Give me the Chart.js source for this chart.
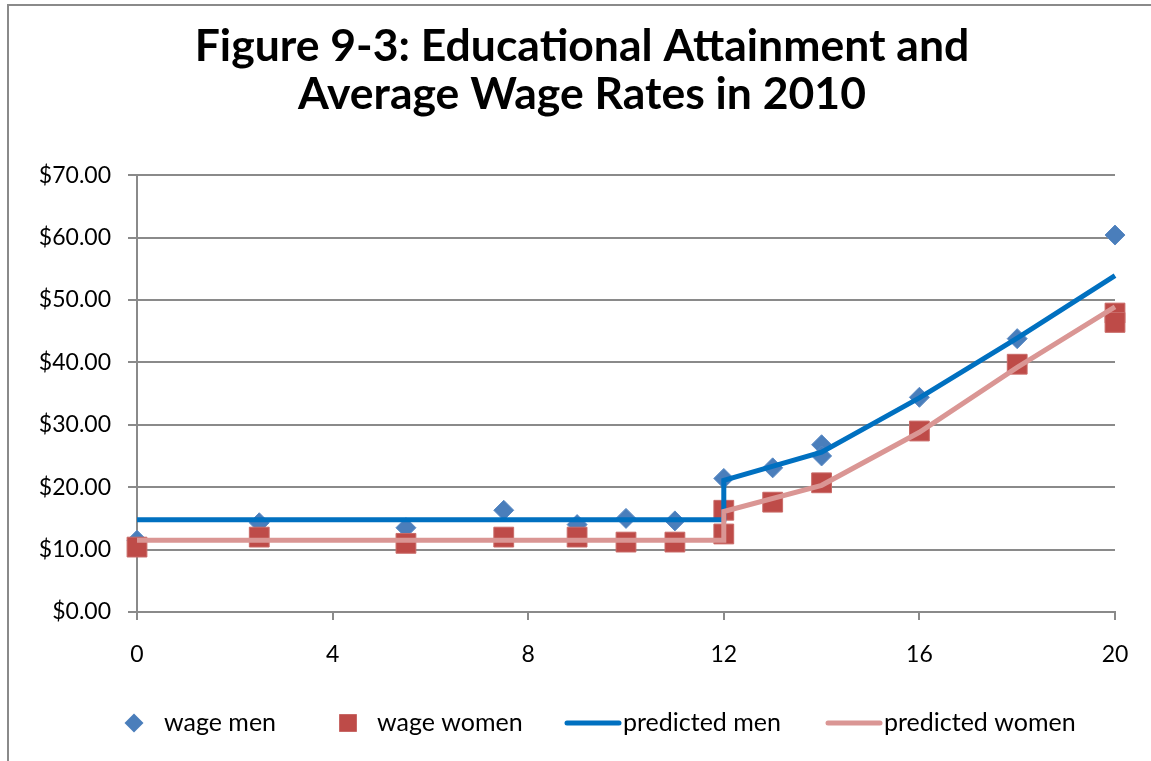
<!DOCTYPE html>
<html>
<head>
<meta charset="utf-8">
<script src="https://cdn.jsdelivr.net/npm/chart.js@4/dist/chart.umd.min.js"></script>
<style>
  html, body { margin: 0; padding: 0; background: #fff; overflow: hidden; }
  #wrap { position: relative; width: 1151px; height: 761px; }
  #frame { position: absolute; left: 7px; top: 4px; width: 1170px; height: 790px; border: 2px solid #8a8a8a; box-sizing: border-box; }
  canvas { position: absolute; left: 0; top: 0; }
</style>
</head>
<body>
<div id="wrap">
  <div id="frame"></div>
  <canvas id="chart" width="1151" height="761"></canvas>
</div>
<script>
// ── data ─────────────────────────────────────────────────────────────────
const menYears   = [0, 2.5, 5.5, 7.5, 9, 10, 11, 12, 13, 14, 14, 16, 18, 20];
const menWage    = [11.5, 14.3, 13.5, 16.3, 14.0, 15.0, 14.6, 21.4, 23.1, 26.8, 25.0, 34.4, 43.8, 60.4];

const womenYears = [0, 2.5, 5.5, 7.5, 9, 10, 11, 12, 12, 13, 14, 16, 18, 20, 20];
const womenWage  = [10.4, 12.0, 11.0, 12.0, 12.0, 11.2, 11.2, 16.3, 12.5, 17.6, 20.7, 29.0, 39.7, 47.9, 46.4];

const predMenYears   = [0, 12, 12, 14, 16, 18, 20];
const predMenWage    = [14.8, 14.8, 21.1, 25.6, 34.3, 43.9, 53.9];
const predWomenYears = [0, 12, 12, 14, 16, 18, 20];
const predWomenWage  = [11.5, 11.5, 16.1, 20.3, 28.8, 39.2, 48.9];

const seriesLabels = ['wage men', 'wage women', 'predicted men', 'predicted women'];
const titleLines   = ['Figure 9-3: Educational Attainment and', 'Average Wage Rates in 2010'];

const FONT = 'Lato, "Open Sans", sans-serif';
const GRID = '#8a8a8a';

const pts = (xs, ys) => xs.map((x, i) => ({ x, y: ys[i] }));

// legend drawn along the bottom, Excel style (marker / short line + text)
const legendSlots = [124, 338, 565, 826];
const bottomLegend = {
  id: 'bottomLegend',
  afterDraw(chart) {
    const ctx = chart.ctx;
    const y = 723;
    ctx.save();
    ctx.font = '25px ' + FONT;
    ctx.textBaseline = 'middle';
    chart.data.datasets.forEach((ds, i) => {
      let x = legendSlots[i];
      if (ds.showLine) {
        ctx.strokeStyle = ds.borderColor;
        ctx.lineWidth = 5;
        ctx.lineCap = 'round';
        ctx.beginPath();
        ctx.moveTo(x + 2, y);
        ctx.lineTo(x + 54, y);
        ctx.stroke();
        x += 58;
      } else {
        ctx.fillStyle = ds.backgroundColor;
        Chart.helpers.drawPoint(ctx, { pointStyle: ds.pointStyle, radius: ds.pointStyle === 'rect' ? 12.5 : 9.5, borderWidth: 0 }, x + 10, y);
        x += ds.pointStyle === 'rect' ? 39 : 40;
      }
      ctx.fillStyle = '#000';
      ctx.fillText(ds.label, x, y);
    });
    ctx.restore();
  },
};

new Chart(document.getElementById('chart'), {
  type: 'scatter',
  data: {
    datasets: [
      {
        label: seriesLabels[0],
        data: pts(menYears, menWage),
        pointStyle: 'rectRot',
        pointRadius: 10,
        backgroundColor: '#4a7ebb',
        borderColor: '#5a8ac4',
        borderWidth: 1,
        clip: false,
        order: 3,
      },
      {
        label: seriesLabels[1],
        data: pts(womenYears, womenWage),
        pointStyle: 'rect',
        pointRadius: 14,
        backgroundColor: '#be4b48',
        borderColor: '#c96a67',
        borderWidth: 1,
        clip: false,
        order: 2,
      },
      {
        label: seriesLabels[2],
        data: pts(predMenYears, predMenWage),
        showLine: true,
        pointRadius: 0,
        borderColor: '#0070c0',
        borderWidth: 5,
        tension: 0,
        clip: false,
        order: 1,
      },
      {
        label: seriesLabels[3],
        data: pts(predWomenYears, predWomenWage),
        showLine: true,
        pointRadius: 0,
        borderColor: '#da9694',
        borderWidth: 5,
        tension: 0,
        clip: false,
        order: 0,
      },
    ],
  },
  options: {
    responsive: false,
    animation: false,
    layout: { padding: { left: 13, right: 0, top: 0, bottom: 0 } },
    plugins: {
      legend: { display: false },
      tooltip: { enabled: false },
      title: {
        display: true,
        text: titleLines,
        color: '#000',
        font: { family: FONT, size: 44.5, weight: 'bold', lineHeight: 1.08 },
        padding: { top: 23, bottom: 56 },
      },
    },
    scales: {
      x: {
        type: 'linear',
        min: 0, max: 20,
        afterFit: s => { s.height = 149; },
        ticks: { stepSize: 4, color: '#000', padding: 21, font: { family: FONT, size: 23 } },
        grid: { drawOnChartArea: false, drawTicks: true, tickLength: 8, color: GRID, lineWidth: 2 },
        border: { display: true, color: GRID, width: 2 },
      },
      y: {
        min: 0, max: 70,
        afterFit: s => { s.width = 124; },
        ticks: {
          stepSize: 10, color: '#000', padding: 17,
          font: { family: FONT, size: 23 },
          callback: v => '$' + v.toFixed(2),
        },
        grid: { color: GRID, lineWidth: 2, tickLength: 9 },
        border: { display: true, color: GRID, width: 2 },
      },
      // empty right-hand axis, only reserves the margin right of the plot
      yRight: {
        position: 'right',
        min: 0, max: 70,
        afterFit: s => { s.width = 36; },
        ticks: { display: false },
        grid: { display: false },
        border: { display: false },
      },
    },
  },
  plugins: [bottomLegend],
});
</script>
</body>
</html>
